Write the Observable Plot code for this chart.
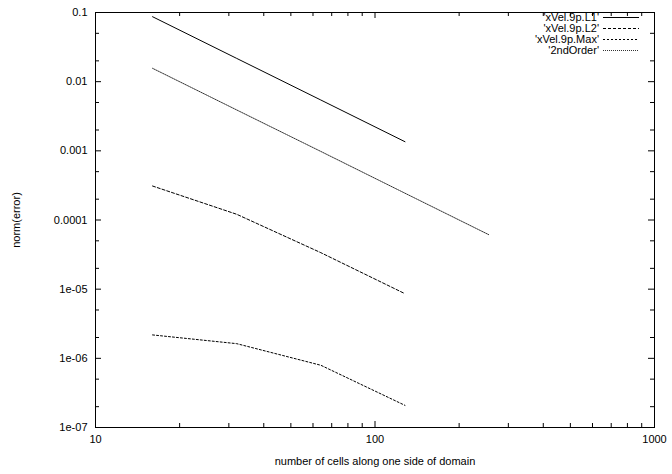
<!DOCTYPE html>
<html>
<head>
<meta charset="utf-8">
<script src="https://cdn.jsdelivr.net/npm/d3@7"></script>
<script src="https://cdn.jsdelivr.net/npm/@observablehq/plot@0.6"></script>
<style>
  body { margin: 0; background: white; }
  #wrap { position: relative; width: 672px; height: 474px; font-family: "Liberation Sans", Arial, sans-serif; }
  #legend { position: absolute; left: 0; top: 0; pointer-events: none; }
</style>
</head>
<body>
<div id="wrap"></div>
<script>
// ---- data ----
const cells = [16, 32, 64, 128];
const cells2nd = [16, 32, 64, 128, 256];
const xVelL1 = [0.0869, 0.0217, 0.00543, 0.001355];
const xVelL2 = [3.1e-4, 1.21e-4, 3.37e-5, 8.6e-6];
const xVelMax = [2.18e-6, 1.63e-6, 7.94e-7, 2.09e-7];
const secondOrder = [0.0156, 0.0039, 0.00098, 0.000244, 6.1e-5];

const seriesNames = ["'xVel.9p.L1'", "'xVel.9p.L2'", "'xVel.9p.Max'", "'2ndOrder'"];
const seriesDash = [null, "3,2", "2,2", "1,1"];
const seriesColor = ["black", "black", "black", "#333"];

const xMajor = [10, 100, 1000];
const xTickLabels = ["10", "100", "1000"];
const xMinor = [20,30,40,50,60,70,80,90,200,300,400,500,600,700,800,900];
const yMajor = [1e-7, 1e-6, 1e-5, 1e-4, 1e-3, 1e-2, 1e-1];
const yTickLabels = ["1e-07", "1e-06", "1e-05", "0.0001", "0.001", "0.01", "0.1"];
const yMinor = [2e-7,5e-7,2e-6,5e-6,2e-5,5e-5,2e-4,5e-4,2e-3,5e-3,2e-2,5e-2];

const xLabel = "number of cells along one side of domain";
const yLabel = "norm(error)";

// ---- table ----
const rows = [];
cells.forEach((n, i) => rows.push({series: 0, n, v: xVelL1[i]}));
cells.forEach((n, i) => rows.push({series: 1, n, v: xVelL2[i]}));
cells.forEach((n, i) => rows.push({series: 2, n, v: xVelMax[i]}));
cells2nd.forEach((n, i) => rows.push({series: 3, n, v: secondOrder[i]}));

const font = "'Liberation Sans', Arial, sans-serif";
const fs = 11;

const W = 672, H = 474, mL = 95, mR = 18, mT = 12, mB = 47;
const fw = W - mL - mR, fh = H - mT - mB;

// inward ticks on all four sides
function ticksX(values, len) {
  return [
    Plot.tickX(values, {x: d => d, stroke: "black", strokeWidth: 1, insetTop: fh - len}),
    Plot.tickX(values, {x: d => d, stroke: "black", strokeWidth: 1, insetBottom: fh - len})
  ];
}
function ticksY(values, len) {
  return [
    Plot.tickY(values, {y: d => d, stroke: "black", strokeWidth: 1, insetRight: fw - len}),
    Plot.tickY(values, {y: d => d, stroke: "black", strokeWidth: 1, insetLeft: fw - len})
  ];
}

const chart = Plot.plot({
  width: W,
  height: H,
  marginLeft: mL,
  marginRight: mR,
  marginTop: mT,
  marginBottom: mB,
  style: {fontFamily: font, fontSize: fs + "px", background: "white", color: "black", overflow: "visible"},
  x: {type: "log", domain: [10, 1000], label: null},
  y: {type: "log", domain: [1e-7, 0.1], label: null},
  marks: [
    Plot.axisX({anchor: "bottom", ticks: xMajor, tickSize: 0, tickPadding: 8,
      tickFormat: d => xTickLabels[xMajor.indexOf(d)], fontSize: fs,
      label: xLabel, labelAnchor: "center", labelOffset: 37, labelArrow: "none"}),
    Plot.axisY({anchor: "left", ticks: yMajor, tickSize: 0, tickPadding: 8,
      tickFormat: d => yTickLabels[yMajor.indexOf(d)], fontSize: fs,
      label: yLabel, labelAnchor: "center", labelOffset: 83, labelArrow: "none"}),
    ...ticksX(xMajor, 6),
    ...ticksX(xMinor, 4),
    ...ticksY(yMajor, 6),
    ...ticksY(yMinor, 4),
    Plot.frame({stroke: "black", strokeWidth: 1}),
    ...[0, 1, 2, 3].map(s =>
      Plot.line(rows.filter(d => d.series === s), {
        x: "n", y: "v", stroke: seriesColor[s], strokeWidth: 1,
        strokeDasharray: seriesDash[s] ?? undefined
      }))
  ]
});

const wrap = document.getElementById("wrap");
wrap.appendChild(chart);

// legend overlay (inside plot area, top-right)
const NS = "http://www.w3.org/2000/svg";
const leg = document.createElementNS(NS, "svg");
leg.setAttribute("id", "legend");
leg.setAttribute("width", W);
leg.setAttribute("height", H);
const legRowY = [17, 28, 39, 50];
seriesNames.forEach((name, i) => {
  const t = document.createElementNS(NS, "text");
  t.setAttribute("x", 599);
  t.setAttribute("y", legRowY[i]);
  t.setAttribute("text-anchor", "end");
  t.setAttribute("dy", "0.35em");
  t.setAttribute("font-family", font);
  t.setAttribute("font-size", fs);
  t.textContent = name;
  leg.appendChild(t);
  const l = document.createElementNS(NS, "line");
  l.setAttribute("x1", 603);
  l.setAttribute("x2", 639);
  l.setAttribute("y1", legRowY[i] + 0.5);
  l.setAttribute("y2", legRowY[i] + 0.5);
  l.setAttribute("stroke", seriesColor[i]);
  l.setAttribute("stroke-width", 1);
  if (seriesDash[i]) l.setAttribute("stroke-dasharray", seriesDash[i]);
  leg.appendChild(l);
});
wrap.appendChild(leg);
</script>
</body>
</html>
